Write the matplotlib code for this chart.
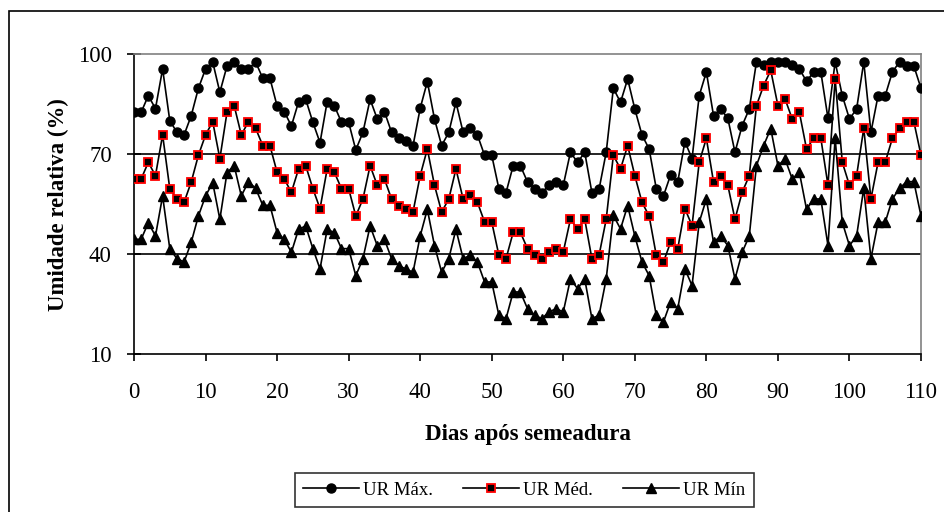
import matplotlib
matplotlib.use("Agg")
import matplotlib.pyplot as plt
from matplotlib.patches import Rectangle

# ── Data ──────────────────────────────────────────────────────────────────────
dias = list(range(0, 111))

ur_max = [
    82.6, 82.6, 87.6, 83.7, 95.6, 80.1, 76.6, 75.8, 81.6, 89.8,
    95.6, 97.7, 88.6, 96.5, 97.7, 95.6, 95.6, 97.7, 92.8, 92.8,
    84.5, 82.8, 78.5, 85.7, 86.5, 79.6, 73.5, 85.8, 84.6, 79.6,
    79.6, 71.3, 76.6, 86.5, 80.6, 82.8, 76.6, 75.0, 74.1, 72.6,
    83.8, 91.8, 80.6, 72.6, 76.6, 85.6, 76.6, 77.8, 75.8, 69.7,
    69.7, 59.7, 58.5, 66.6, 66.6, 61.7, 59.7, 58.5, 60.7, 61.7,
    60.7, 70.6, 67.6, 70.6, 58.5, 59.5, 70.6, 89.8, 85.6, 92.6,
    83.6, 75.8, 71.6, 59.7, 57.5, 63.8, 61.7, 73.8, 68.7, 87.6,
    94.7, 81.6, 83.6, 80.8, 70.6, 78.6, 83.6, 97.7, 96.7, 97.7,
    97.7, 97.7, 96.7, 95.6, 91.9, 94.7, 94.7, 80.8, 97.7, 87.6,
    80.6, 83.6, 97.7, 76.6, 87.6, 87.6, 94.7, 97.7, 96.5, 96.5,
    89.8,
]

ur_med = [
    62.6, 62.6, 67.6, 63.6, 75.8, 59.7, 56.6, 55.6, 61.7, 69.7,
    75.8, 79.8, 68.7, 82.6, 84.6, 75.8, 79.8, 77.8, 72.6, 72.6,
    64.6, 62.6, 58.6, 65.6, 66.6, 59.7, 53.7, 65.6, 64.6, 59.7,
    59.7, 51.5, 56.6, 66.6, 60.7, 62.6, 56.6, 54.6, 53.7, 52.7,
    63.6, 71.6, 60.7, 52.7, 56.6, 65.6, 56.6, 57.8, 55.6, 49.7,
    49.7, 39.7, 38.7, 46.6, 46.6, 41.7, 39.7, 38.7, 40.7, 41.7,
    40.7, 50.5, 47.6, 50.5, 38.7, 39.7, 50.5, 69.7, 65.6, 72.6,
    63.6, 55.6, 51.5, 39.7, 37.7, 43.6, 41.7, 53.7, 48.6, 67.6,
    74.8, 61.7, 63.6, 60.7, 50.5, 58.6, 63.6, 84.6, 90.6, 95.2,
    84.6, 86.6, 80.6, 82.6, 71.6, 74.8, 74.8, 60.7, 92.6, 67.6,
    60.7, 63.6, 77.8, 56.6, 67.6, 67.6, 74.8, 77.8, 79.8, 79.8,
    69.7,
]

ur_min = [
    44.5, 44.5, 49.5, 45.5, 57.5, 41.7, 38.7, 37.7, 43.6, 51.5,
    57.5, 61.5, 50.5, 64.5, 66.6, 57.5, 61.8, 59.8, 54.7, 54.7,
    46.5, 44.5, 40.6, 47.5, 48.5, 41.7, 35.6, 47.5, 46.5, 41.7,
    41.7, 33.6, 38.7, 48.5, 42.6, 44.5, 38.7, 36.6, 35.6, 34.6,
    45.5, 53.5, 42.6, 34.6, 38.7, 47.5, 38.7, 39.7, 37.7, 31.7,
    31.7, 21.7, 20.7, 28.7, 28.7, 23.7, 21.7, 20.7, 22.7, 23.7,
    22.7, 32.6, 29.7, 32.6, 20.7, 21.7, 32.6, 51.7, 47.6, 54.6,
    45.5, 37.7, 33.6, 21.7, 19.7, 25.7, 23.7, 35.6, 30.6, 49.6,
    56.6, 43.6, 45.5, 42.6, 32.6, 40.6, 45.5, 66.6, 72.6, 77.7,
    66.6, 68.6, 62.6, 64.6, 53.5, 56.6, 56.6, 42.6, 74.8, 49.6,
    42.6, 45.5, 59.8, 38.7, 49.6, 49.6, 56.6, 59.8, 61.8, 61.8,
    51.5,
]

x_ticks = list(range(0, 111, 10))
y_ticks = [10, 40, 70, 100]

# ── Plot ──────────────────────────────────────────────────────────────────────
plt.rcParams["font.family"] = ["Liberation Serif", "DejaVu Serif"]

fig = plt.figure(figsize=(9.44, 5.12), dpi=100)
ax = fig.add_axes([134 / 944, 1 - 354.3 / 512, 787 / 944, 300 / 512])

# outer chart frame
fig.patches.append(Rectangle((9 / 944, -0.05), 1.0, 1 - 11 / 512 + 0.05,
                             transform=fig.transFigure, fill=False,
                             edgecolor="black", linewidth=1.2))

for y in [40, 70]:
    ax.axhline(y, color="black", linewidth=1.2, zorder=1)

ax.plot(dias, ur_max, color="black", linewidth=1.2, marker="o",
        markersize=6.5, markerfacecolor="black", markeredgecolor="black",
        label="UR Máx.", zorder=3)
ax.plot(dias, ur_med, color="black", linewidth=1.2, marker="s",
        markersize=6, markerfacecolor="black", markeredgecolor="red",
        markeredgewidth=1.3, label="UR Méd.", zorder=3)
ax.plot(dias, ur_min, color="black", linewidth=1.2, marker="^",
        markersize=6.5, markerfacecolor="black", markeredgecolor="black",
        label="UR Mín", zorder=3)

ax.set_xlim(0, 110)
ax.set_ylim(10, 100)
ax.set_xticks(x_ticks)
ax.set_yticks(y_ticks)
ax.tick_params(axis="x", direction="out", length=5, width=1.2,
               labelsize=16.5, pad=15)
ax.tick_params(axis="y", direction="inout", length=10, width=1.2,
               labelsize=16.5, pad=11)

for side in ["top", "right"]:
    ax.spines[side].set_color("#808080")
    ax.spines[side].set_linewidth(1.2)
for side in ["left", "bottom"]:
    ax.spines[side].set_color("black")
    ax.spines[side].set_linewidth(1.2)

ax.set_xlabel("Dias após semeadura", fontsize=16.5, fontweight="bold",
              labelpad=15)
ax.set_ylabel("Umidade relativa (%)", fontsize=16.5, fontweight="bold",
              labelpad=6)

leg = fig.legend(loc="center", bbox_to_anchor=(524 / 944, 1 - 490 / 512),
                 ncol=3, fontsize=13.5, frameon=True, fancybox=False,
                 edgecolor="black", handlelength=3, handletextpad=0.2,
                 columnspacing=1.6, borderpad=0.45)
leg.get_frame().set_linewidth(1.2)

fig.savefig("out.png", dpi=100)
plt.close(fig)
